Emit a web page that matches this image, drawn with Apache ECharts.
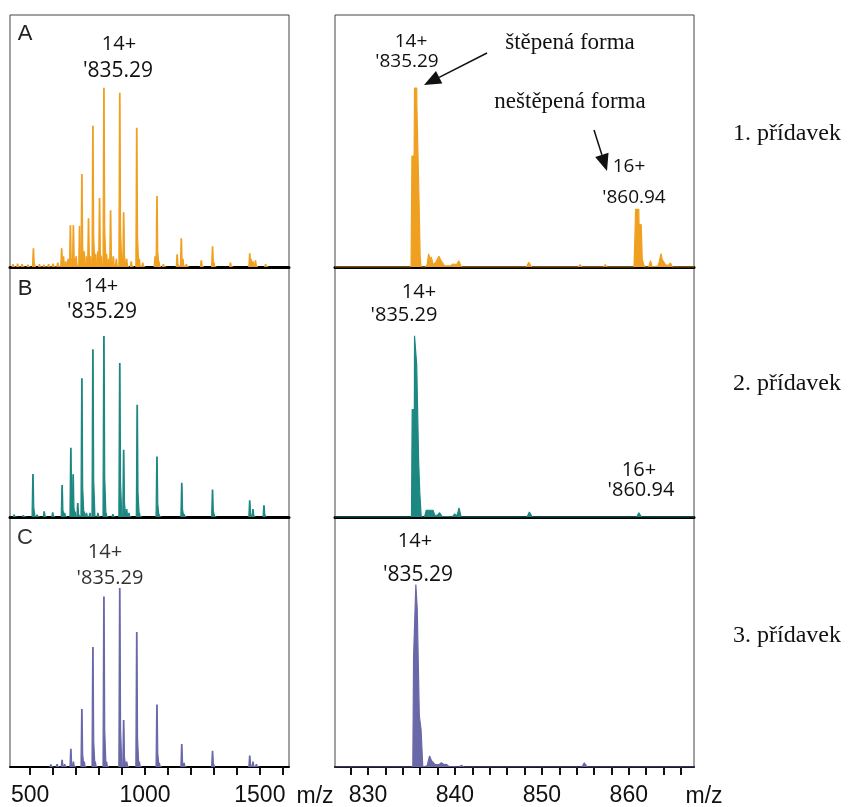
<!DOCTYPE html>
<html><head><meta charset="utf-8">
<script src="https://cdn.jsdelivr.net/npm/echarts@6/dist/echarts.min.js"></script>
<style>html,body{margin:0;padding:0;background:#fff}#c{width:849px;height:807px}</style>
</head><body><div id="c"></div>
<script>
// ---------- data ----------
// Left panels: peak m/z and relative intensity (% of panel height)
const leftA_mz  = [425,445,465,490,514,540,560,580,600,620,637,645,655,665,675,688,700,715,725,735,745,754,763,773,785,795,802,810,821,832,840,850,862,875,890,898,907,920,940,964,975,990,1044,1052,1060,1080,1140,1158,1165,1180,1245,1294,1300,1372,1456,1462,1470,1481,1525];
const leftA_int = [1,1.2,1,0.8,7.2,1,0.8,1,1.2,1.5,7.2,4,2,3,16.3,16.3,4,16,36.7,6,4,19.1,4,55.8,5,6,27.1,4,70.9,5,3,22.3,4,3,68.9,5,21.5,3,2,55,3,1.5,4,27.9,2,1,4.8,11.2,3,1,2.4,8,1.5,1.5,5.2,3,2,2.4,1];
const leftB_mz  = [430,470,512,530,561,598,639,650,677,687,695,707,725,735,745,760,773,795,821,830,860,890,907,920,930,966,975,1052,1060,1160,1170,1294,1300,1456,1470,1518];
const leftB_int = [0.8,0.6,17,0.8,2.1,1.7,12.6,1.5,27.5,16.9,2,5.4,55.3,2,1.5,1.5,66.9,1.5,72.2,1.5,1,61.4,26.7,3,1.5,44.7,1.5,24,1,13.5,1,10.8,1,6.5,3,4.5];
const leftC_mz  = [590,617,639,650,677,688,725,735,773,783,821,832,890,907,920,964,975,1052,1062,1160,1170,1294,1456,1470,1485];
const leftC_int = [0.9,1,2.7,1,7.1,2,23,2,47.8,2,68,2,71.4,18.6,2,53.8,2,24.8,1.5,9,1.5,6.3,4.4,2,1];
// Right panels: profile points (m/z, relative intensity %)
const rightA_mz  = [826.2,834.1,834.3,834.5,834.95,835.05,835.3,835.35,835.6,835.62,835.83,835.87,836.0,836.1,836.6,836.8,836.97,837.15,837.28,837.5,837.78,838.0,838.16,838.4,838.62,838.8,839.5,839.78,840.0,840.2,840.44,840.74,848.2,848.5,848.8,854.2,854.4,854.6,857.1,857.3,857.5,860.6,860.7,860.78,861.15,861.18,861.43,861.55,861.8,862.3,862.5,862.7,863.4,863.7,863.85,864.0,864.2,864.5,864.8,865.0,867.5];
const rightA_int = [0,0,0.5,0,0,44,44,71,71,64,64,26,4,0,0,1,5.2,3,4,0.8,1.8,1.5,4.3,2.5,2.3,0.5,0.5,1.2,0.5,1,2.5,0,0,1.9,0,0,0.9,0,0,0.9,0,0,12,22.9,22.9,16.8,16.8,3,0,0,2.5,0,0.5,5.3,3,3.6,1,0.5,1.6,0,0];
const rightB_mz  = [826.2,834.2,834.4,834.6,835.0,835.08,835.33,835.35,835.55,835.6,835.78,835.82,835.95,836.12,836.5,836.7,836.9,837.1,837.3,837.47,837.7,838.0,838.24,838.5,839.7,839.97,840.2,840.35,840.47,840.7,842.3,842.48,842.65,848.3,848.56,848.9,860.9,861.16,861.45,867.5];
const rightB_int = [0,0,0.7,0,0,43,43,72.5,72.5,60.8,60.8,22.7,10,0,0,2.7,2.2,2.7,2.5,2.7,0.5,0.8,1.7,0.3,0,1.3,0.3,2,3.6,0,0,0.7,0,0,2,0,0,1.7,0,0];
const rightC_mz  = [826.2,834.2,834.4,834.6,835.15,835.24,835.45,835.5,835.62,835.66,835.85,835.9,836.1,836.3,836.8,837.08,837.3,837.47,837.7,838.2,838.44,838.7,839.0,839.3,840.5,840.75,841.0,848.8,849.02,849.25,854.6,854.88,855.2,867.5];
const rightC_int = [0,0,0.7,0,0,44,44,73,73,63.3,63.3,20.5,15,0,0.5,4.4,2.5,2.9,1,1,1.7,1,1.1,0.2,0,0.7,0,0,0.7,0,0,1.7,0,0];
// axis ticks / labels
const leftTicks = [500,600,700,800,900,1000,1100,1200,1300,1400,1500,1600];
const leftLabels = [500,1000,1500];
const rightTicks = [828,830,832,834,836,838,840,842,844,846,848,850,852,854,856,858,860,862,864,866];
const rightLabels = [830,840,850,860];
const panelNames = ['A','B','C'];
const rowLabels = ['1. přídavek','2. přídavek','3. přídavek'];
const colors = ['#F0A020','#1D8882','#6A68A8'];

// ---------- layout ----------
const rowsTop = [15,267,517], rowsH = [252,250,250];
const L = {left:10, width:279, min:412, max:1627};
const R = {left:335, width:359, min:826.2, max:867.5};
const chart = echarts.init(document.getElementById('c'), null, {renderer:'canvas'});
const grids=[], xAxes=[], yAxes=[], series=[];
const leftData = [[leftA_mz,leftA_int],[leftB_mz,leftB_int],[leftC_mz,leftC_int]];
const rightData = [[rightA_mz,rightA_int],[rightB_mz,rightB_int],[rightC_mz,rightC_int]];
function xAxisFor(side, gi, last){
  const ax = {type:'value', gridIndex:gi, min:side.min, max:side.max, splitLine:{show:false},
    axisLine:{show:true, onZero:false, lineStyle:{color:'#000', width: last?2:3}},
    axisTick:{show:false}, axisLabel:{show:false}};
  if (last){
    const isLeft = side===L;
    ax.axisTick = {show:true, inside:false, length:8, lineStyle:{color:'#111', width:2}, customValues: isLeft?leftTicks:rightTicks};
    ax.axisLabel = {show:true, margin:17, fontSize:23, color:'#111', fontFamily:'Liberation Sans, Arial',
      customValues: isLeft?leftLabels:rightLabels, formatter:function(v){return String(v);}};
  }
  return ax;
}
for (let r=0;r<3;r++){
  const last = r===2;
  [L,R].forEach((side,si)=>{
    const gi = grids.length;
    grids.push({left:side.left, top:rowsTop[r], width:side.width, height:rowsH[r], show:true, borderColor:'#444', borderWidth:1, containLabel:false});
    xAxes.push(xAxisFor(side, gi, last));
    yAxes.push({type:'value', gridIndex:gi, min:0, max:100, show:false});
    const col = colors[r];
    if (si===0){
      const [mz,it] = leftData[r];
      series.push({type:'custom', xAxisIndex:gi, yAxisIndex:gi, clip:true,
        data: mz.map((m,i)=>[m,it[i]]),
        renderItem:function(params, api){
          const m = api.value(0), h = api.value(1);
          const pts = [api.coord([m-4,0]), api.coord([m-1.2,h]), api.coord([m+1.2,h]), api.coord([m+3.5,h*0.22]), api.coord([m+9,0])];
          return {type:'polygon', shape:{points:pts}, style:{fill:col, stroke:col, lineWidth:1.2}};
        }});
    } else {
      const [mz,it] = rightData[r];
      series.push({type:'line', xAxisIndex:gi, yAxisIndex:gi, symbol:'none', clip:true,
        data: mz.map((m,i)=>[m,it[i]]),
        lineStyle:{color:col, width:1.2}, areaStyle:{color:col, opacity:1}});
    }
  });
}

// ---------- annotation graphics ----------
const g = [];
function stxt(x,y,t,size,color,font){
  g.push({type:'text', x:x, y:y, style:{text:t, fontSize:size, fontFamily:font, fill:color||'#111', align:'center', verticalAlign:'middle'}});
}
// panel letters
stxt(25,34,panelNames[0],22,'#222','Liberation Sans');
stxt(25,289,panelNames[1],22,'#222','Liberation Sans');
stxt(25,538,panelNames[2],22,'#333','Liberation Sans');
// peak labels
stxt(119,44,'14+',20,'#111','Open Sans'); stxt(118,71,"'835.29",21,'#111','Open Sans');
stxt(101,286,'14+',20,'#111','Open Sans'); stxt(102,312,"'835.29",21,'#111','Open Sans');
stxt(105,552,'14+',20,'#333','Open Sans'); stxt(110,578,"'835.29",20,'#333','Open Sans');
stxt(411,42,'14+',19,'#111','Open Sans'); stxt(407,62,"'835.29",19,'#111','Open Sans');
stxt(629,167,'16+',19,'#111','Open Sans'); stxt(634,198,"'860.94",19,'#111','Open Sans');
stxt(419,292,'14+',20,'#111','Open Sans'); stxt(404,315,"'835.29",20,'#111','Open Sans');
stxt(639,470,'16+',20,'#111','Open Sans'); stxt(641,490,"'860.94",20,'#111','Open Sans');
stxt(415,541,'14+',20,'#111','Open Sans'); stxt(418,575,"'835.29",21,'#111','Open Sans');
// Czech annotations
stxt(570,43,'štěpená forma',23,'#111','Liberation Serif');
stxt(570,102,'neštěpená forma',23,'#111','Liberation Serif');
stxt(787,134,rowLabels[0],24,'#111','Liberation Serif');
stxt(787,384,rowLabels[1],24,'#111','Liberation Serif');
stxt(787,636,rowLabels[2],24,'#111','Liberation Serif');
// m/z labels
stxt(315,797,'m/z',23,'#111','Liberation Sans');
stxt(704,797,'m/z',23,'#111','Liberation Sans');
// arrows
function arrow(x1,y1,x2,y2,len,hw){
  const dx=x2-x1, dy=y2-y1, d=Math.hypot(dx,dy), ux=dx/d, uy=dy/d;
  const bx=x2-ux*len, by=y2-uy*len;
  g.push({type:'line', shape:{x1:x1,y1:y1,x2:bx,y2:by}, style:{stroke:'#111', lineWidth:1.5}});
  g.push({type:'polygon', shape:{points:[[x2,y2],[bx-uy*hw,by+ux*hw],[bx+uy*hw,by-ux*hw]]}, style:{fill:'#111'}});
}
arrow(487,53,424,85,17,7);
arrow(594,130,607,171,17,7);

chart.setOption({animation:false, backgroundColor:'#fff', grid:grids, xAxis:xAxes, yAxis:yAxes, series:series, graphic:g});
</script></body></html>
